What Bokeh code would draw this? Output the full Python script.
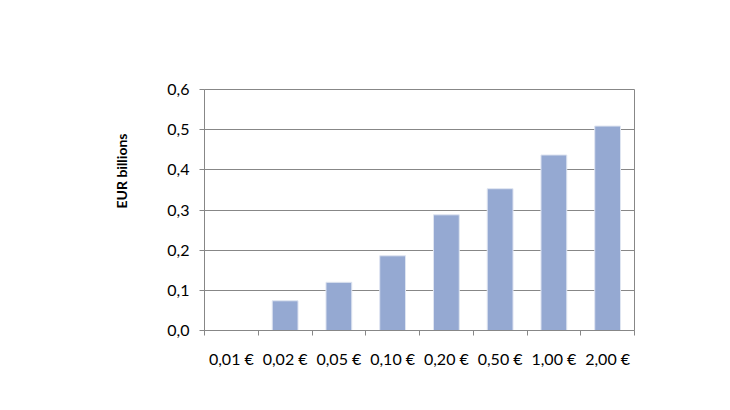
import numpy as np
from bokeh.plotting import figure
from bokeh.models import FixedTicker, Range1d, ColumnDataSource, Title
from bokeh.embed import file_html
from bokeh.resources import INLINE

# --- data ---
coins = ["0,01 €", "0,02 €", "0,05 €", "0,10 €", "0,20 €", "0,50 €", "1,00 €", "2,00 €"]
values = [0.0, 0.074, 0.12, 0.186, 0.288, 0.353, 0.437, 0.509]
y_ticks = [0.0, 0.1, 0.2, 0.3, 0.4, 0.5, 0.6]
y_tick_labels = ["0,0", "0,1", "0,2", "0,3", "0,4", "0,5", "0,6"]

FONT = "Lato"
GREY = "#878787"

# categories sit at half-integer positions so the ticks can go on the boundaries
xs = np.arange(len(coins)) + 0.5
source = ColumnDataSource(data={"x": xs, "value": values})

p = figure(
    width=714,
    height=394,
    x_range=Range1d(0, len(coins)),
    y_range=Range1d(0, 0.6),
    output_backend="svg",
    toolbar_location=None,
    min_border_left=204,
    min_border_right=80,
    min_border_top=89,
    min_border_bottom=64,
)

p.vbar(x="x", top="value", width=0.48, source=source,
       fill_color="#95a9d2", line_color="#dfe5f1", line_width=1)

# y axis title sits above the frame centre in the original, so use a side title
p.add_layout(Title(text="EUR billions", align="right", offset=44,
                   text_font=FONT, text_font_style="bold",
                   text_font_size="14px", text_color="black"), "left")

p.yaxis.ticker = FixedTicker(ticks=y_ticks)
p.yaxis.major_label_overrides = dict(zip(y_ticks, y_tick_labels))
# blank axis label only to push the side title further out
p.yaxis.axis_label = " "
p.yaxis.axis_label_text_font_size = "14px"
p.yaxis.axis_label_standoff = 11
p.yaxis.major_label_text_font = FONT
p.yaxis.major_label_text_font_size = "16px"
p.yaxis.major_label_text_color = "black"
p.yaxis.major_label_standoff = 10
p.yaxis.axis_line_color = GREY
p.yaxis.major_tick_line_color = GREY
p.yaxis.major_tick_in = 0
p.yaxis.major_tick_out = 5
p.yaxis.minor_tick_line_color = None

# x axis: labels at centres, ticks at the category boundaries
p.xaxis.ticker = FixedTicker(ticks=list(xs), minor_ticks=list(range(len(coins) + 1)))
p.xaxis.major_label_overrides = dict(zip(xs, coins))
p.xaxis.major_label_text_font = FONT
p.xaxis.major_label_text_font_size = "16px"
p.xaxis.major_label_text_color = "black"
p.xaxis.major_label_standoff = 12
p.xaxis.axis_line_color = GREY
p.xaxis.major_tick_line_color = None
p.xaxis.minor_tick_line_color = GREY
p.xaxis.minor_tick_in = 0
p.xaxis.minor_tick_out = 5

p.xgrid.grid_line_color = None
p.ygrid.grid_line_color = GREY
p.ygrid.grid_line_width = 1
p.outline_line_color = GREY
p.background_fill_color = "white"
p.border_fill_color = "white"

open("out.html", "w").write(file_html(p, INLINE))
